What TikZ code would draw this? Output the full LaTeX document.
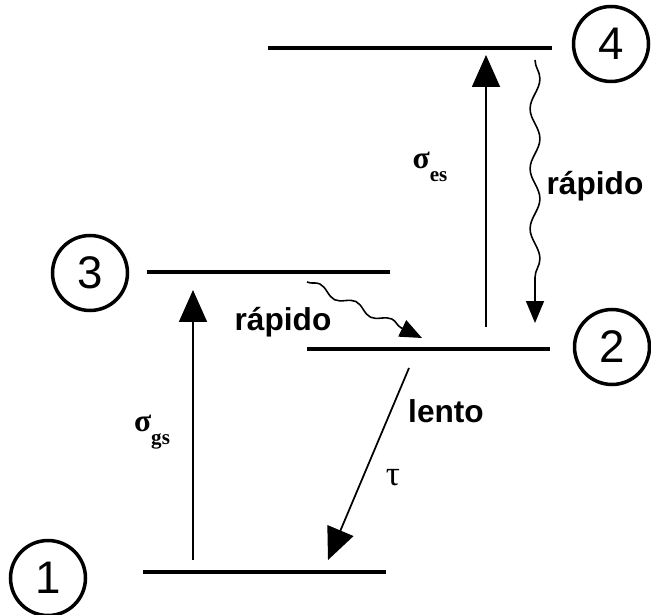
\documentclass[tikz,border=0pt]{standalone}
\usepackage{fontspec}
\setmainfont{Liberation Sans}
\newfontfamily\grk{Liberation Serif}
\usetikzlibrary{arrows.meta,decorations.pathmorphing,positioning}

\tikzset{
  level/.style={line width=2.4pt},
  lvl/.style={circle,draw,line width=2pt,minimum size=1.5cm,inner sep=0pt,
    font=\fontsize{26}{26}\selectfont},
  pump/.style={line width=1pt,-{Triangle[length=0.64cm,width=0.56cm]}},
  relax/.style={line width=0.9pt,decorate,
    decoration={snake,amplitude=2.8pt,segment length=1.2cm,post length=0.45cm},
    -{Triangle[length=0.44cm,width=0.36cm]}},
  lab/.style={font=\bfseries\fontsize{18}{18}\selectfont},
}

\begin{document}
\begin{tikzpicture}[x=0.02cm,y=-0.02cm]
				\useasboundingbox (0,0) rectangle (651,614);
				
				% niveles de energia
				\coordinate (E1a) at (143,572); \coordinate (E1b) at (386,572);
				\coordinate (E2a) at (307,349); \coordinate (E2b) at (550,349);
				\coordinate (E3a) at (147,272); \coordinate (E3b) at (390,272);
				\coordinate (E4a) at (268,48);  \coordinate (E4b) at (552,48);
				\draw[level] (E1a)--(E1b);
				\draw[level] (E2a)--(E2b);
				\draw[level] (E3a)--(E3b);
				\draw[level] (E4a)--(E4b);
				
				\node[lvl] (n1) at (48,578) {1};
				\node[lvl] (n2) at (612,347) {2};
				\node[lvl] (n3) at (90,273) {3};
				\node[lvl] (n4) at (611,44) {4};
				
				% absorcion
				\coordinate (gs0) at (193,560); \coordinate (gs1) at (193,290);
				\coordinate (es0) at (486,327); \coordinate (es1) at (486,55);
				\draw[pump] (gs0)--(gs1);
				\draw[pump] (es0)--(es1);
				
				% decaimiento lento
				\coordinate (ln0) at (409,368); \coordinate (ln1) at (328,560);
				\draw[pump] (ln0)--(ln1);
				
				% decaimientos rapidos
				\coordinate (r40) at (535,60);  \coordinate (r41) at (535,323);
				\coordinate (r30) at (307,282); \coordinate (r31) at (422,338);
				\draw[relax] (r40)--(r41);
				\draw[relax,decoration={segment length=0.8cm,amplitude=2.2pt}] (r30)--(r31);
				
				\node[lab] (rap3) at (283,322) {rápido};
				\node[lab] (rap4) at (595,186) {rápido};
				\node[lab] (lento) at (446,411) {lento};
				\node (tau) at (393,478) {\grk\fontsize{20}{20}\selectfont τ};
				\node (sgs) at (152,432) {\grk\bfseries\fontsize{18}{18}\selectfont σ\raisebox{-0.4em}{\fontsize{12}{12}\selectfont gs}};
				\node (ses) at (430,167) {\grk\bfseries\fontsize{18}{18}\selectfont σ\raisebox{-0.4em}{\fontsize{12}{12}\selectfont es}};
			\end{tikzpicture}
\end{document}
